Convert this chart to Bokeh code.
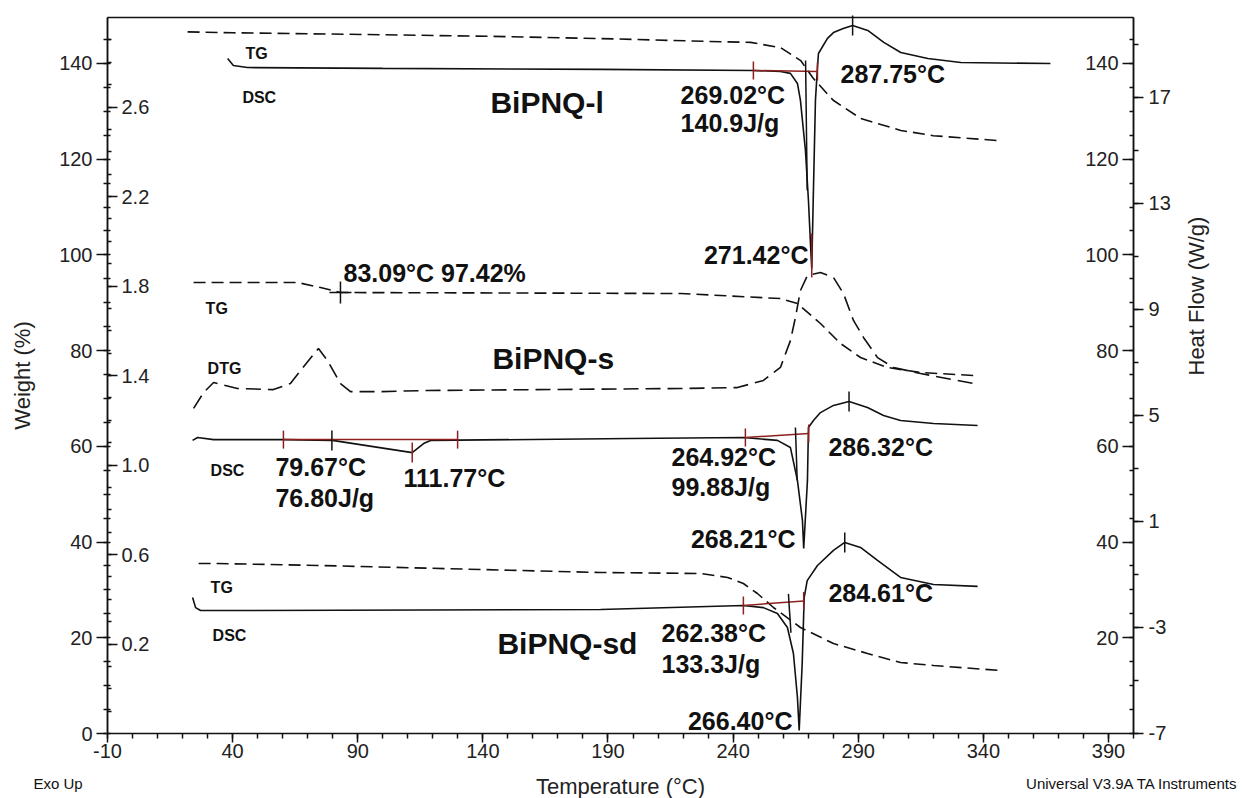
import numpy as np
from bokeh.plotting import figure
from bokeh.models import Range1d, LinearAxis, FixedTicker, PrintfTickFormatter, Label
from bokeh.embed import file_html
from bokeh.resources import INLINE

FONT = "Liberation Sans"
RED = "#8e1f1f"
INK = "#111111"

# ---------------- data (temperature in deg C) ----------------
# BiPNQ-l : TG (weight %, left axis) and DSC (heat flow W/g, right axis)
tg_l_t = [22.0, 40, 100, 150, 187, 230, 247, 259, 267, 272, 280, 291, 307, 320, 345.6]
tg_l_w = [146.6, 146.4, 146.0, 145.6, 145.2, 144.6, 144.4, 143.3, 140.6, 136.9, 132.3, 128.5, 126.0, 124.9, 123.9]

dsc_l_t = [38.0, 40.3, 45.9, 100, 187, 248.1, 258.9, 262.9, 265.7, 266.9, 268.9, 270.1, 271.1, 271.42,
           272.0, 272.9, 273.7, 274.1, 277.7, 280.1, 284.0, 287.75, 293.8, 300.2, 307.0, 317.8, 331.0, 366.8]
dsc_l_h = [18.47, 18.21, 18.13, 18.10, 18.06, 18.02, 17.98, 17.91, 17.53, 16.89, 15.0, 13.11, 11.11, 10.55,
           13.1, 16.9, 18.13, 18.66, 19.23, 19.45, 19.60, 19.72, 19.53, 19.08, 18.70, 18.47, 18.32, 18.28]

# BiPNQ-s : TG, DTG, DSC
tg_s_t = [24.4, 65.9, 75.1, 83.1, 219.0, 258.9, 265.7, 274.9, 282.9, 290.9, 301.7, 314.9, 336.1]
tg_s_w = [94.23, 94.23, 93.19, 92.14, 91.93, 90.88, 89.84, 85.66, 81.49, 78.56, 76.47, 75.42, 74.80]

dtg_s_t = [24.4, 28.4, 32.4, 41.9, 56.3, 63.1, 67.1, 74.3, 77.9, 83.1, 87.1, 99.1, 117.9, 219.0, 241.7,
           252.1, 258.9, 262.9, 264.9, 266.9, 269.7, 274.9, 280.1, 284.1, 288.1, 292.1, 297.7, 304.1, 314.9, 336.1]
dtg_s_d = [1.253, 1.324, 1.369, 1.342, 1.337, 1.364, 1.422, 1.521, 1.467, 1.364, 1.328, 1.328, 1.333, 1.342, 1.346,
           1.378, 1.436, 1.556, 1.659, 1.780, 1.847, 1.860, 1.838, 1.766, 1.646, 1.570, 1.480, 1.436, 1.409, 1.364]

dsc_s_t = [24.0, 26.0, 32.4, 60.3, 79.9, 111.77, 116.3, 119.1, 199.0, 244.1, 257.7, 262.9, 265.7, 267.7, 268.21,
           269.7, 270.1, 272.1, 274.9, 280.1, 286.32, 293.7, 300.1, 306.9, 320.1, 337.7]
dsc_s_h = [4.06, 4.17, 4.09, 4.09, 4.06, 3.60, 3.94, 4.06, 4.13, 4.17, 4.06, 3.79, 2.55, 1.04, -0.02,
           2.55, 4.55, 4.81, 5.11, 5.38, 5.53, 5.30, 5.00, 4.81, 4.70, 4.62]

# BiPNQ-sd : TG, DSC
tg_sd_t = [26.4, 34.0, 75.1, 187.0, 227.0, 237.8, 244.1, 249.7, 256.1, 266.9, 280.1, 293.7, 306.9, 320.1, 346.8]
tg_sd_w = [35.52, 35.52, 35.10, 33.64, 33.43, 32.60, 31.34, 29.25, 26.33, 22.15, 18.80, 16.72, 14.83, 14.21, 13.16]

dsc_sd_t = [24.0, 25.2, 27.2, 34.0, 187.0, 244.1, 252.1, 257.7, 261.7, 264.1, 265.7, 266.40, 267.6, 268.4,
            269.6, 273.7, 280.1, 284.61, 290.9, 297.7, 306.9, 320.1, 337.7]
dsc_sd_h = [-1.87, -2.25, -2.36, -2.36, -2.32, -2.17, -2.25, -2.47, -3.0, -3.98, -5.64, -6.89, -4.36, -1.87,
            -1.23, -0.66, -0.09, 0.21, 0.02, -0.47, -1.11, -1.38, -1.45]

# integration baselines (start T, end T, start HF, end HF)
base_t0 = [248.1, 60.3, 244.9, 244.1]
base_t1 = [273.7, 129.9, 270.2, 268.2]
base_h0 = [18.02, 4.09, 4.17, -2.17]
base_h1 = [17.98, 4.09, 4.32, -2.00]

# onset tangent lines
tan_t0 = [268.95, 264.9, 262.1]
tan_t1 = [269.6, 265.6, 263.1]
tan_h0 = [18.4, 4.55, -1.73]
tan_h1 = [13.5, 2.55, -3.2]

# peak markers (exo peaks + 79.67 onset, black)
peak_t = [287.75, 286.32, 284.61, 79.67]
peak_h = [19.72, 5.53, 0.21, 4.06]
# red peak markers
rpeak_t = [111.77]
rpeak_h = [3.60]
rpeak2_t = [271.42]
rpeak2_h = [11.04]

# TG step marker
step_t = [83.09]
step_w = [92.14]

# axis ticks
x_major = [-10, 40, 90, 140, 190, 240, 290, 340, 390]
x_minor = list(range(-10, 401, 10))
w_major = [0, 20, 40, 60, 80, 100, 120, 140]
w_major_inner = [20, 40, 60, 80, 100, 120, 140]
w_minor = list(range(0, 150, 5))
hf_major = [-7, -3, 1, 5, 9, 13, 17]
hf_minor = list(range(-7, 21, 2))
dtg_major = [0.2, 0.6, 1.0, 1.4, 1.8, 2.2, 2.6]
dtg_minor = [round(-0.1 + 0.1 * i, 1) for i in range(31)]

# plotted extents of the chart box
T_MIN, T_MAX = -10, 400
W_MIN, W_MAX = 0, 149.6
HF_MIN, HF_MAX = -7, 20.02
D_MIN, D_MAX = -0.198, 3.002

# ---------------- figure (frame = whole canvas; axes placed at fixed locations) ----------------
p = figure(width=1243, height=798, output_backend="svg", toolbar_location=None,
           x_range=Range1d(-52.76, 443.95), y_range=Range1d(-13.58, 153.15),
           x_axis_location=None, y_axis_location=None, min_border=0)
p.extra_y_ranges = {"hf": Range1d(-9.453, 20.66), "dtg": Range1d(-0.4905, 3.076)}
p.xgrid.visible = False
p.ygrid.visible = False
p.outline_line_color = None
p.background_fill_color = "white"
p.border_fill_color = "white"


def style_axis(ax, tick_out, minor_out, minor_in=0, standoff=5):
    ax.axis_line_color = INK
    ax.axis_line_width = 1.5
    ax.major_tick_line_color = INK
    ax.minor_tick_line_color = INK
    ax.major_tick_line_width = 1.5
    ax.minor_tick_line_width = 1.5
    ax.major_tick_out = tick_out
    ax.major_tick_in = 0
    ax.minor_tick_out = minor_out
    ax.minor_tick_in = minor_in
    ax.major_label_text_font = FONT
    ax.major_label_text_font_size = "20px"
    ax.major_label_text_color = "#222222"
    ax.major_label_standoff = standoff
    ax.axis_label_text_font = FONT
    ax.axis_label_text_font_size = "22px"
    ax.axis_label_text_font_style = "normal"
    ax.axis_label_text_color = "#222222"


# bottom temperature axis
xa = LinearAxis(fixed_location=W_MIN, bounds=(T_MIN, T_MAX),
                ticker=FixedTicker(ticks=x_major, minor_ticks=x_minor),
                formatter=PrintfTickFormatter(format="%d"))
style_axis(xa, 9, 5, 0, 1)
xa.axis_label = "Temperature (°C)"
xa.axis_label_standoff = 13
p.add_layout(xa, "below")

# top border
top = LinearAxis(fixed_location=W_MAX, bounds=(T_MIN, T_MAX), ticker=FixedTicker(ticks=[], minor_ticks=[]))
style_axis(top, 0, 0, 0, 0)
top.major_label_text_font_size = "0px"
p.add_layout(top, "above")

# left weight axis
ya = LinearAxis(fixed_location=T_MIN, bounds=(W_MIN, W_MAX),
                ticker=FixedTicker(ticks=w_major, minor_ticks=w_minor),
                formatter=PrintfTickFormatter(format="%d"))
style_axis(ya, 11, 4, 3, 4)
ya.axis_label = "Weight (%)"
ya.axis_label_standoff = 21
p.add_layout(ya, "left")

# inner left DTG axis (labels inside the box)
dtg_ax = LinearAxis(y_range_name="dtg", fixed_location=T_MIN, bounds=(D_MIN, D_MAX),
                    ticker=FixedTicker(ticks=dtg_major, minor_ticks=dtg_minor),
                    formatter=PrintfTickFormatter(format="%.1f"))
style_axis(dtg_ax, 10, 4, 0, 4)
p.add_layout(dtg_ax, "right")

# right heat-flow axis
hf_ax = LinearAxis(y_range_name="hf", fixed_location=T_MAX, bounds=(HF_MIN, HF_MAX),
                   ticker=FixedTicker(ticks=hf_major, minor_ticks=hf_minor),
                   formatter=PrintfTickFormatter(format="%d"))
style_axis(hf_ax, 10, 5, 0, 5)
hf_ax.axis_label = "Heat Flow (W/g)"
hf_ax.axis_label_standoff = 23
if "axis_label_orientation" in hf_ax.properties():
    hf_ax.axis_label_orientation = np.pi / 2
p.add_layout(hf_ax, "right")

# inner right weight axis
w2_ax = LinearAxis(fixed_location=T_MAX, bounds=(W_MIN, W_MAX),
                   ticker=FixedTicker(ticks=w_major_inner, minor_ticks=w_minor),
                   formatter=PrintfTickFormatter(format="%d"))
style_axis(w2_ax, 11, 4, 0, 4)
p.add_layout(w2_ax, "left")

# ---------------- curves ----------------
LW = 1.6
p.line(tg_l_t, tg_l_w, line_color=INK, line_width=LW, line_dash="12 6")
p.line(dsc_l_t, dsc_l_h, line_color=INK, line_width=LW, y_range_name="hf")

p.line(tg_s_t, tg_s_w, line_color=INK, line_width=LW, line_dash="12 6")
p.line(dtg_s_t, dtg_s_d, line_color=INK, line_width=LW, line_dash="15 7", y_range_name="dtg")
p.line(dsc_s_t, dsc_s_h, line_color=INK, line_width=LW, y_range_name="hf")

p.line(tg_sd_t, tg_sd_w, line_color=INK, line_width=LW, line_dash="12 6")
p.line(dsc_sd_t, dsc_sd_h, line_color=INK, line_width=LW, y_range_name="hf")

# integration baselines and limits
p.segment(base_t0, base_h0, base_t1, base_h1, line_color=RED, line_width=1.5, y_range_name="hf")
p.scatter(base_t0 + base_t1, base_h0 + base_h1, marker="dash", angle=np.pi / 2, size=18,
          line_color=RED, line_width=1.5, y_range_name="hf")
# onset tangents
p.segment(tan_t0, tan_h0, tan_t1, tan_h1, line_color=INK, line_width=1.5, y_range_name="hf")
# peak markers
p.scatter(peak_t, peak_h, marker="dash", angle=np.pi / 2, size=20, line_color=INK, line_width=1.5,
          y_range_name="hf")
p.scatter(rpeak_t, rpeak_h, marker="dash", angle=np.pi / 2, size=20, line_color=RED, line_width=1.5,
          y_range_name="hf")
p.scatter(rpeak2_t, rpeak2_h, marker="dash", angle=np.pi / 2, size=44, line_color=RED, line_width=1.5,
          y_range_name="hf")
p.scatter(step_t, step_w, marker="cross", size=22, line_color=INK, line_width=1.5)

# ---------------- texts ----------------
texts = [
    # text, x, y(weight units), size, style, align
    ("TG", 45.1, 142.1, "16px", "bold", "left"),
    ("DSC", 43.9, 132.9, "16px", "bold", "left"),
    ("BiPNQ-l", 143.0, 131.8, "30px", "bold", "left"),
    ("269.02°C", 219.0, 133.5, "25px", "bold", "left"),
    ("140.9J/g", 219.0, 127.5, "25px", "bold", "left"),
    ("287.75°C", 282.9, 137.7, "25px", "bold", "left"),
    ("271.42°C", 270.1, 99.9, "25px", "bold", "right"),
    ("83.09°C 97.42%", 84.3, 96.3, "25px", "bold", "left"),
    ("TG", 29.2, 88.8, "16px", "bold", "left"),
    ("DTG", 30.0, 76.3, "16px", "bold", "left"),
    ("BiPNQ-s", 143.8, 78.4, "30px", "bold", "left"),
    ("DSC", 31.2, 55.0, "16px", "bold", "left"),
    ("79.67°C", 57.1, 55.6, "25px", "bold", "left"),
    ("76.80J/g", 57.1, 49.3, "25px", "bold", "left"),
    ("111.77°C", 108.3, 53.3, "25px", "bold", "left"),
    ("264.92°C", 215.4, 57.7, "25px", "bold", "left"),
    ("99.88J/g", 215.4, 51.4, "25px", "bold", "left"),
    ("268.21°C", 264.9, 40.7, "25px", "bold", "right"),
    ("286.32°C", 278.1, 59.8, "25px", "bold", "left"),
    ("TG", 31.2, 30.5, "16px", "bold", "left"),
    ("DSC", 32.0, 20.5, "16px", "bold", "left"),
    ("BiPNQ-sd", 145.8, 18.8, "30px", "bold", "left"),
    ("262.38°C", 211.4, 20.9, "25px", "bold", "left"),
    ("133.3J/g", 211.4, 14.6, "25px", "bold", "left"),
    ("284.61°C", 278.1, 29.3, "25px", "bold", "left"),
    ("266.40°C", 263.7, 2.7, "25px", "bold", "right"),
    ("Exo Up", -39.6, -10.45, "15px", "normal", "left"),
    ("Universal V3.9A TA Instruments", 441.9, -10.45, "15px", "normal", "right"),
]
for t, x, y, s, st, al in texts:
    p.add_layout(Label(x=x, y=y, text=t, text_font=FONT, text_font_size=s, text_font_style=st,
                       text_align=al, text_baseline="middle", text_color=INK))

open("out.html", "w").write(file_html(p, INLINE))
